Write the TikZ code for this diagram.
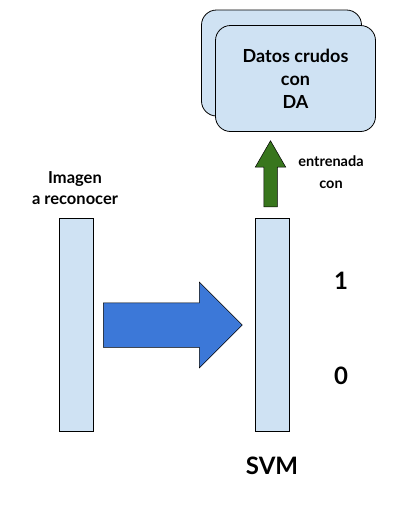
\documentclass[tikz,border=0pt]{standalone}
\usepackage{fontspec}
\setmainfont{Lato}
\usetikzlibrary{shapes.arrows}
\definecolor{celeste}{HTML}{CFE2F3}
\definecolor{azul}{HTML}{3C78D8}
\definecolor{verde}{HTML}{38761D}
\begin{document}
\begin{tikzpicture}[x=1pt,y=-1pt]
		\tikzstyle{Barra} = [rectangle, minimum width=34pt, minimum height=213pt, draw=black, line width=0.8pt, fill=celeste, inner sep=0pt]
		\tikzstyle{Datos} = [rectangle, rounded corners=15pt, minimum width=160pt, minimum height=106pt, draw=black, line width=0.8pt, fill=celeste, align=center, font=\fontsize{18}{23}\selectfont\bfseries]
		\tikzstyle{Etiqueta} = [align=center, inner sep=0pt, font=\bfseries]
		\tikzstyle{Flecha} = [single arrow, draw=black, line width=0.5pt, inner xsep=0pt, anchor=tail]
		
		\useasboundingbox (0,0) rectangle (419,507);
		\node (datosAtras) [Datos] at (281.5,63) {};
		\node (datos) [Datos] at (295.5,78.5) {Datos crudos\\con\\DA};
		\node (imagen) [Barra] at (76,324.5) {};
		\node (svm) [Barra] at (272,324.5) {};
		\node (flechaAzul) [Flecha, fill=azul, minimum height=139pt, inner ysep=22pt, single arrow head extend=20.5pt, single arrow tip angle=90] at (103,325) {};
		\node (flechaVerde) [Flecha, fill=verde, minimum height=66pt, inner ysep=6.5pt, single arrow head extend=8.5pt, single arrow tip angle=60, rotate=90] at (270.5,207) {};
		\node (imagenTxt) [Etiqueta, font=\fontsize{16.5}{21}\selectfont\bfseries] at (75,188.5) {Imagen\\a reconocer};
		\node (entrenada) [Etiqueta, font=\fontsize{14.5}{22}\selectfont\bfseries] at (331,172) {entrenada\\con};
		\node (uno) [Etiqueta, font=\fontsize{24}{24}\selectfont\bfseries] at (341,281) {1};
		\node (cero) [Etiqueta, font=\fontsize{24}{24}\selectfont\bfseries] at (341,376) {0};
		\node (svmTxt) [Etiqueta, font=\fontsize{24}{24}\selectfont\bfseries] at (272,466) {SVM};
\end{tikzpicture}
\end{document}
